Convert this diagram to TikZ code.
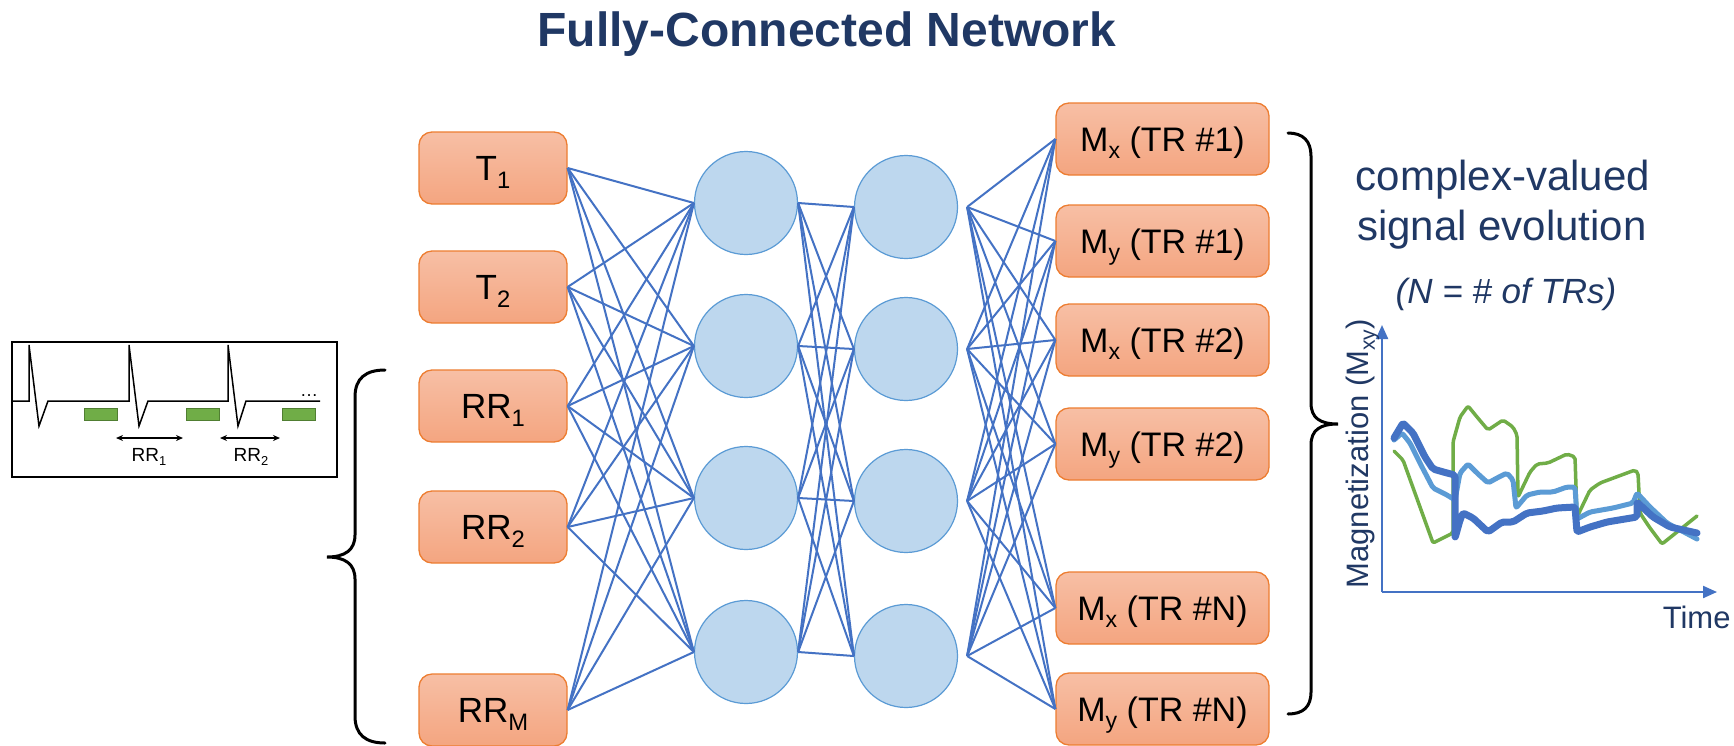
\documentclass[tikz,border=0pt]{standalone}
\usepackage{fontspec}
\setmainfont{Liberation Sans}
\usetikzlibrary{arrows.meta}
\definecolor{navy}{HTML}{203864}
\definecolor{connc}{HTML}{4472C4}
\definecolor{nfill}{HTML}{BDD7EE}
\definecolor{nbord}{HTML}{5B9BD5}
\definecolor{obord}{HTML}{ED7D31}
\definecolor{otop}{RGB}{247,191,165}
\definecolor{obot}{RGB}{244,165,128}
\definecolor{ecggreen}{HTML}{70AD47}
\definecolor{ecggreenD}{HTML}{507E32}
\definecolor{lblue}{HTML}{5B9BD5}
\newcommand\fs[1]{\fontsize{#1}{#1}\selectfont}
\newcommand\sbs[1]{\raisebox{-0.22em}{\scalebox{0.68}{#1}}}
\begin{document}
\begin{tikzpicture}[x=1pt,y=-1pt,
  inbox/.style={rectangle, rounded corners=13pt, draw=obord, line width=1.3pt,
    top color=otop, bottom color=obot, minimum width=148pt, minimum height=72pt,
    inner sep=0pt, text height=25pt, text depth=0pt, font=\fs{35}},
  outbox/.style={inbox, minimum width=213pt, text height=24.3pt, font=\fs{34}},
  neuron/.style={circle, fill=nfill, draw=nbord, line width=1.2pt, minimum size=103pt, inner sep=0pt},
  conn/.style={draw=connc, line width=2pt},
  brace/.style={draw=black, line width=3pt, line cap=round},
  curve/.style={line join=round, line cap=round, rounded corners=2pt},
  axisline/.style={draw=connc, line width=2.2pt, -{Triangle[length=14pt,width=12pt]}},
  ecgtext/.style={font=\fs{19}},
]
\fill[white] (0,0) rectangle (1734,745);
\useasboundingbox (0,0) rectangle (1734,745);

% title
\node[anchor=base, font=\fs{48}\bfseries, text=navy] (title) at (827,46) {Fully-Connected Network};

% input nodes
\node[inbox] (i1) at (493,168) {T\sbs{1}};
\node[inbox] (i2) at (493,287) {T\sbs{2}};
\node[inbox] (i3) at (493,406) {RR\sbs{1}};
\node[inbox] (i4) at (493,527) {RR\sbs{2}};
\node[inbox] (i5) at (493,710) {RR\sbs{M}};

% hidden layers
\node[neuron] (a1) at (746,203) {};
\node[neuron] (a2) at (746,346) {};
\node[neuron] (a3) at (746,498) {};
\node[neuron] (a4) at (746,652) {};
\node[neuron] (b1) at (906,207) {};
\node[neuron] (b2) at (906,349) {};
\node[neuron] (b3) at (906,501) {};
\node[neuron] (b4) at (906,656) {};
\foreach \k in {1,...,4} \coordinate (b\k o) at ([xshift=9pt]b\k.east);

% outputs
\node[outbox] (o1) at (1162.5,139) {M\sbs{x} (TR \#1)};
\node[outbox] (o2) at (1162.5,241) {M\sbs{y} (TR \#1)};
\node[outbox] (o3) at (1162.5,340) {M\sbs{x} (TR \#2)};
\node[outbox] (o4) at (1162.5,444) {M\sbs{y} (TR \#2)};
\node[outbox] (o5) at (1162.5,608) {M\sbs{x} (TR \#N)};
\node[outbox] (o6) at (1162.5,709) {M\sbs{y} (TR \#N)};

% connections
\foreach \i in {1,...,5} \foreach \j in {1,...,4} \draw[conn] (i\i.east) -- (a\j.west);
\foreach \i in {1,...,4} \foreach \j in {1,...,4} \draw[conn] (a\i.east) -- (b\j.west);
\foreach \i in {1,...,4} \foreach \j in {1,...,6} \draw[conn] (b\i o) -- (o\j.west);

% left brace
\draw[brace] (385,370) .. controls (366,370) and (355,378) .. (355,397)
  -- (355,535) .. controls (355,550) and (345,557) .. (327,557)
  .. controls (345,557) and (355,564) .. (355,579)
  -- (355,716) .. controls (355,735) and (366,743) .. (385,743);

% right brace
\draw[brace] (1288,133) .. controls (1303,133) and (1311,141) .. (1311,156)
  -- (1311,403) .. controls (1311,418) and (1320,424) .. (1338,424)
  .. controls (1320,424) and (1311,430) .. (1311,445)
  -- (1311,692) .. controls (1311,707) and (1303,714) .. (1288,714);

% ECG inset
\draw[line width=2.5pt] (12,342) rectangle (337,477);
\draw[line width=1.5pt, line join=miter]
  (13,401) -- (29,401) -- (29,345) -- (39,426) -- (48,401) -- (129,401)
  -- (129,345) -- (139,426) -- (148,401) -- (228,401) -- (228,345)
  -- (238,426) -- (246,401) -- (320,401);
\foreach \x in {84,186,282}
  \draw[fill=ecggreen, draw=ecggreenD, line width=0.8pt] (\x,408) rectangle ++(33,12);
\node[anchor=base, font=\fs{18}] (dots) at (309,396) {…};
\coordinate (r1a) at (116,438); \coordinate (r1b) at (183,438);
\coordinate (r2a) at (220,438); \coordinate (r2b) at (280,438);
\draw[line width=1.3pt, {Stealth[length=7pt,width=6pt]}-{Stealth[length=7pt,width=6pt]}] (r1a) -- (r1b);
\draw[line width=1.3pt, {Stealth[length=7pt,width=6pt]}-{Stealth[length=7pt,width=6pt]}] (r2a) -- (r2b);
\node[ecgtext, anchor=base] (rr1) at (149,461) {RR\sbs{1}};
\node[ecgtext, anchor=base] (rr2) at (251,461) {RR\sbs{2}};

% right-side text
\node[anchor=base, font=\fs{42}, text=navy] (t1) at (1503,190) {complex-valued};
\node[anchor=base, font=\fs{42}, text=navy] (t2) at (1502,240) {signal evolution};
\node[anchor=base, font=\fs{35}\itshape, text=navy] (t3) at (1506,303) {(N = \# of TRs)};

% plot
\coordinate (org) at (1382,592);
\coordinate (ytip) at (1382,325);
\coordinate (xtip) at (1717,592);
\draw[axisline] (org) -- (ytip);
\draw[axisline] (org) -- (xtip);
\node[rotate=90, anchor=base west, font=\fs{31}, text=navy] (ylab) at (1368,592) {Magnetization (M\sbs{xy})};
\node[anchor=base east, font=\fs{31}, text=navy] (xlab) at (1734,628) {Time};

\draw[curve, draw=ecggreen, line width=3.5pt]
 (1394,451) -- (1403,460) -- (1433,543) -- (1453,533) -- (1453,442) -- (1460,417)
 -- (1468,406) -- (1477,417) -- (1488,430) -- (1503,420) -- (1513,427) -- (1517,435)
 -- (1518,497) -- (1530,472) -- (1537,464) -- (1548,463) -- (1567,454) -- (1575,457)
 -- (1577,517) -- (1590,490) -- (1600,483) -- (1635,470) -- (1638,473) -- (1640,513)
 -- (1650,528) -- (1662,544) -- (1697,516);
\draw[curve, draw=lblue, line width=5pt]
 (1394,440) -- (1402,433) -- (1410,443) -- (1422,467) -- (1433,488) -- (1447,495)
 -- (1455,500) -- (1460,473) -- (1468,464) -- (1477,473) -- (1488,483) -- (1497,478)
 -- (1507,473) -- (1513,480) -- (1516,508) -- (1527,495) -- (1540,492) -- (1553,492)
 -- (1567,487) -- (1575,487) -- (1577,519) -- (1590,512) -- (1613,508) -- (1633,503)
 -- (1637,493) -- (1650,507) -- (1667,523) -- (1697,539);
\draw[curve, draw=connc, line width=7pt]
 (1394,438) -- (1403,423) -- (1413,433) -- (1425,457) -- (1433,469) -- (1447,473)
 -- (1455,475) -- (1455,538) -- (1460,520) -- (1463,513) -- (1473,518) -- (1488,532)
 -- (1502,522) -- (1513,522) -- (1527,513) -- (1543,511) -- (1557,508) -- (1575,507)
 -- (1577,532) -- (1590,527) -- (1607,522) -- (1637,517) -- (1637,502) -- (1653,517)
 -- (1670,527) -- (1697,533);
\end{tikzpicture}
\end{document}
